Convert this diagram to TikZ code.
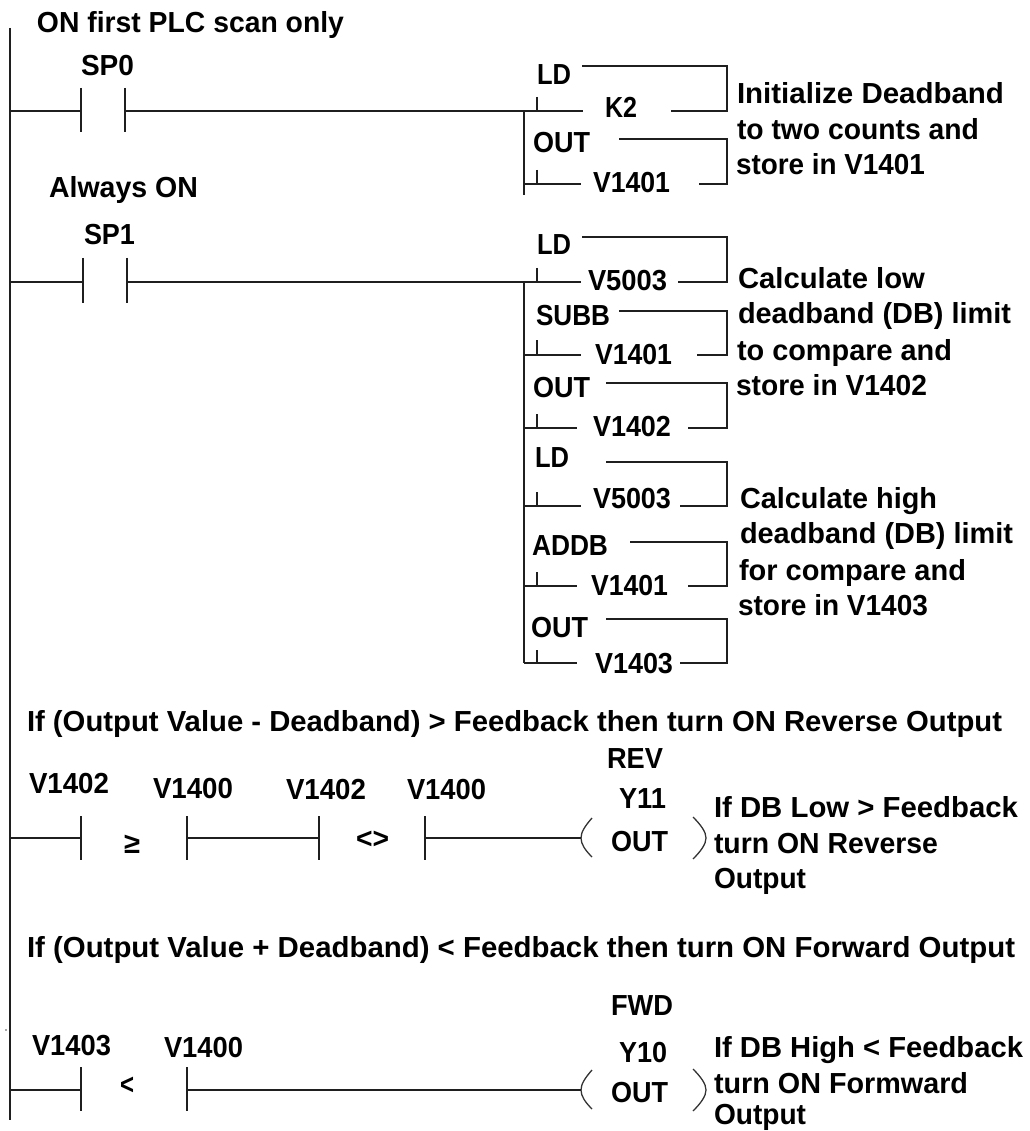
\documentclass[tikz,border=0pt]{standalone}
\usepackage{fontspec}
\setmainfont{Liberation Sans}
\newcommand{\TT}[5]{\node[lbl] (#1) at (#2,#3) {\resizebox{#4pt}{\height}{#5}};}
\newcommand{\Contact}[6]{% name, x1, x2, y, up, down
  \coordinate (#1a) at (#2,#4); \coordinate (#1b) at (#3,#4);
  \draw[wire] (#2,#4-#5) -- (#2,#4+#6); \draw[wire] (#3,#4-#5) -- (#3,#4+#6);}
\newcommand{\Bracket}[6]{% name, x top-left, y top, x bottom-left, y bottom, x right
  \coordinate (#1s) at (#2,#3); \coordinate (#1e) at (#4,#5);
  \coordinate (#1c) at (#6,#3); \coordinate (#1d) at (#6,#5);
  \draw[wire] (#1s) -- (#1c) -- (#1d) -- (#1e);}
\newcommand{\Leg}[4]{% name, y top, y bottom, x end
  \coordinate (#1r) at (524,#3); \coordinate (#1t) at (537,#2); \coordinate (#1k) at (537,#3); \coordinate (#1x) at (#4,#3);
  \draw[wire] (#1r) -- (#1k); \draw[wire] (#1t) -- (#1k) -- (#1x);}
\newcommand{\Coil}[2]{% name, y
  \coordinate (#1a) at (581,#2); \coordinate (#1b) at (706,#2);
  \draw[thinw] (592,#2-20) .. controls (585,#2-12) and (581,#2-6) .. (#1a) .. controls (581,#2+6) and (585,#2+12) .. (592,#2+19);
  \draw[thinw] (693,#2-21) .. controls (701,#2-13) and (706,#2-6) .. (#1b) .. controls (706,#2+6) and (701,#2+13) .. (693,#2+21);}
\tikzset{
  wire/.style={line width=1.8pt,black!88},
  thinw/.style={line width=1.3pt,black!80},
  lbl/.style={anchor=base west,inner sep=0pt,outer sep=0pt,font=\fontsize{29}{29}\selectfont\bfseries}
}
\begin{document}
\begin{tikzpicture}[x=1pt,y=-1pt]
\useasboundingbox (0,0) rectangle (1029,1131);
% power rail
\coordinate (railtop) at (10,28); \coordinate (railbot) at (10,1120);
\draw[line width=2pt,black!88] (railtop) -- (railbot);
\fill[black!70] (6,1030) circle (0.8);
% rung 1
\TT{t1}{37}{33}{307}{ON first PLC scan only}
\TT{sp0}{81}{76}{53}{SP0}
\Contact{c1}{81}{125}{111}{23}{21}
\coordinate (r1) at (10,111); \coordinate (b1) at (524,111); \coordinate (b1e) at (524,195);
\draw[wire] (r1) -- (c1a); \draw[wire] (c1b) -- (b1) -- (b1e);
\TT{a1}{537}{85}{34}{LD}
\TT{a2}{605}{118}{32}{K2}
\TT{a3}{533}{153}{57}{OUT}
\TT{a4}{593}{193}{77}{V1401}
\coordinate (l1t) at (537,97); \coordinate (l1k) at (537,111); \coordinate (l1x) at (583,111);
\draw[wire] (b1) -- (l1x); \draw[wire] (l1t) -- (l1k);
\Leg{l2}{170}{184}{581}
\Bracket{br1}{582}{66}{671}{111}{727}
\Bracket{br2}{619}{139}{699}{184}{727}
\TT{n1}{737}{104}{267}{Initialize Deadband}
\TT{n2}{737}{140}{242}{to two counts and}
\TT{n3}{736}{175}{189}{store in V1401}
% rung 2
\TT{t2}{49}{198}{149}{Always ON}
\TT{sp1}{84}{245}{51}{SP1}
\Contact{c2}{83}{127}{282}{24}{21}
\coordinate (r2) at (10,282); \coordinate (b2) at (524,282); \coordinate (b2e) at (524,663);
\draw[wire] (r2) -- (c2a); \draw[wire] (c2b) -- (b2) -- (b2e);
\TT{b1t}{537}{255}{34}{LD}
\TT{b2t}{588}{290}{79}{V5003}
\TT{b3t}{536}{325}{74}{SUBB}
\TT{b4t}{595}{364}{77}{V1401}
\TT{b5t}{533}{397}{57}{OUT}
\TT{b6t}{593}{436}{78}{V1402}
\TT{b7t}{535}{467}{34}{LD}
\TT{b8t}{593}{508}{78}{V5003}
\TT{b9t}{532}{555}{76}{ADDB}
\TT{b10t}{591}{595}{77}{V1401}
\TT{b11t}{531}{637}{57}{OUT}
\TT{b12t}{595}{673}{78}{V1403}
\coordinate (l3t) at (537,268); \coordinate (l3k) at (537,282); \coordinate (l3x) at (581,282);
\draw[wire] (b2) -- (l3x); \draw[wire] (l3t) -- (l3k);
\Leg{l4}{340}{355}{581}
\Leg{l5}{414}{428}{577}
\Leg{l6}{492}{506}{581}
\Leg{l7}{572}{586}{577}
\Leg{l8}{650}{663}{577}
\Bracket{br3}{582}{237}{678}{282}{727}
\Bracket{br4}{619}{311}{697}{355}{727}
\Bracket{br5}{606}{383}{688}{428}{727}
\Bracket{br6}{606}{462}{680}{506}{727}
\Bracket{br7}{630}{542}{688}{586}{727}
\Bracket{br8}{606}{619}{680}{663}{727}
\TT{n4}{738}{288}{187}{Calculate low}
\TT{n5}{738}{323}{273}{deadband (DB) limit}
\TT{n6}{737}{360}{215}{to compare and}
\TT{n7}{736}{395}{191}{store in V1402}
\TT{n8}{740}{508}{197}{Calculate high}
\TT{n9}{740}{543}{273}{deadband (DB) limit}
\TT{n10}{739}{580}{227}{for compare and}
\TT{n11}{738}{615}{190}{store in V1403}
% rung 3
\TT{t3}{27}{731}{975}{If (Output Value - Deadband) > Feedback then turn ON Reverse Output}
\TT{v1}{29}{793}{80}{V1402}
\TT{v2}{153}{798}{80}{V1400}
\TT{v3}{286}{799}{80}{V1402}
\TT{v4}{407}{799}{79}{V1400}
\TT{ge}{124}{853}{16}{≥}
\TT{ne}{356}{848}{33}{<>}
\Contact{c3}{81}{187}{838}{22}{22}
\Contact{c4}{319}{425}{838}{22}{22}
\Coil{k1}{838}
\coordinate (r3) at (10,838);
\draw[wire] (r3) -- (c3a); \draw[wire] (c3b) -- (c4a); \draw[wire] (c4b) -- (k1a);
\TT{rev}{607}{768}{56}{REV}
\TT{y11}{619}{808}{47}{Y11}
\TT{o1}{611}{851}{57}{OUT}
\TT{n12}{714}{817}{304}{If DB Low > Feedback}
\TT{n13}{714}{853}{224}{turn ON Reverse}
\TT{n14}{714}{888}{92}{Output}
% rung 4
\TT{t4}{27}{957}{988}{If (Output Value + Deadband) < Feedback then turn ON Forward Output}
\TT{v5}{32}{1055}{79}{V1403}
\TT{v6}{164}{1057}{79}{V1400}
\TT{lt}{120}{1094}{14}{<}
\Contact{c5}{81}{187}{1090}{23}{21}
\Coil{k2}{1090}
\coordinate (r4) at (10,1090);
\draw[wire] (r4) -- (c5a); \draw[wire] (c5b) -- (k2a);
\TT{fwd}{611}{1015}{62}{FWD}
\TT{y10}{619}{1062}{48}{Y10}
\TT{o2}{611}{1102}{57}{OUT}
\TT{n15}{714}{1057}{309}{If DB High < Feedback}
\TT{n16}{714}{1093}{254}{turn ON Formward}
\TT{n17}{714}{1124}{92}{Output}
\end{tikzpicture}
\end{document}
